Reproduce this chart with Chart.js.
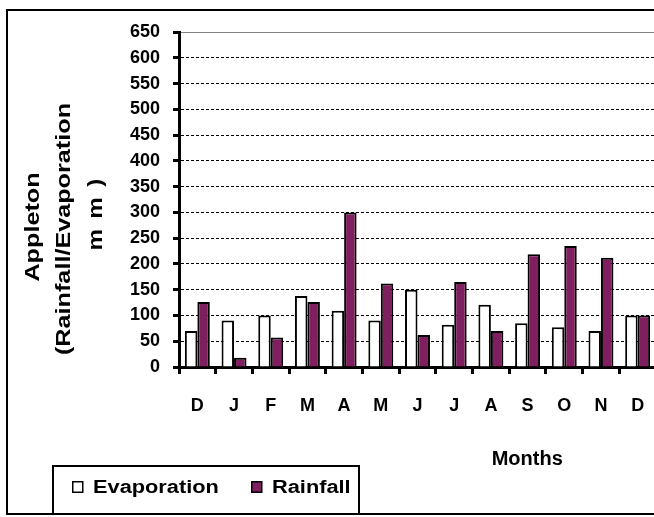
<!DOCTYPE html>
<html>
<head>
<meta charset="utf-8">
<title>Appleton Rainfall / Evaporation</title>
<script src="https://cdn.jsdelivr.net/npm/chart.js@4/dist/chart.umd.min.js"></script>
<style>
  html, body { margin: 0; padding: 0; background: #fff; overflow: hidden; }
  #wrap { position: absolute; left: 0; top: 0; width: 700px; height: 517px; }
</style>
</head>
<body>
<div id="wrap"><canvas id="chart" width="700" height="517"></canvas></div>
<script>
// Monthly values (mm)
const months = ['D', 'J', 'F', 'M', 'A', 'M', 'J', 'J', 'A', 'S', 'O', 'N', 'D'];
const evaporation = [70, 90, 100, 138, 109, 90, 150, 82, 121, 85, 77, 70, 100];
const rainfall = [126, 18, 57, 126, 300, 162, 62, 165, 70, 219, 235, 212, 100];
const seriesNames = ['Evaporation', 'Rainfall'];
const yTitleLines = ['Appleton', '(Rainfall/Evaporation', 'mm)'];
const xTitle = 'Months';

const FONT = '"Liberation Sans", Arial, Helvetica, sans-serif';
const PURPLE = '#7f1f5f';

// Text widened along its own direction (the workbook style uses wide bold type)
function wideText(ctx, text, x, y, sx, spacing) {
  ctx.save();
  ctx.translate(x, y);
  ctx.scale(sx, 1);
  ctx.letterSpacing = (spacing || 0) + 'px';
  ctx.fillText(text, 0, 0);
  ctx.restore();
}

// Outer frame, axis titles and the boxed legend
const decorations = {
  id: 'decorations',
  afterDraw(chart) {
    const ctx = chart.ctx;
    const area = chart.chartArea;
    ctx.save();

    // frame (its right edge runs past the page)
    ctx.strokeStyle = '#000';
    ctx.lineWidth = 2;
    ctx.strokeRect(7, 10, 720, 504);

    // y axis title, three rotated lines
    ctx.fillStyle = '#000';
    ctx.font = 'bold 21px ' + FONT;
    ctx.textBaseline = 'alphabetic';
    ctx.textAlign = 'center';
    const lines = [
      { text: yTitleLines[0], x: 39, y: 227, sx: 1.2, sp: 0 },
      { text: yTitleLines[1], x: 70, y: 229, sx: 1.2, sp: 0 },
      { text: yTitleLines[2], x: 102, y: 214, sx: 1.15, sp: 9 }
    ];
    lines.forEach(l => {
      ctx.save();
      ctx.translate(l.x, l.y);
      ctx.rotate(-Math.PI / 2);
      wideText(ctx, l.text, l.sp / 2, 0, l.sx, l.sp);
      ctx.restore();
    });

    // x axis title
    ctx.font = 'bold 20px ' + FONT;
    ctx.textAlign = 'center';
    ctx.textBaseline = 'middle';
    ctx.fillText(xTitle, area.left + (area.right - area.left) * 0.73, 459);

    // legend box
    ctx.lineWidth = 2;
    ctx.strokeStyle = '#000';
    ctx.fillStyle = '#fff';
    ctx.fillRect(53, 466, 306, 48);
    ctx.strokeRect(53, 466, 306, 48);

    const items = [
      { ds: chart.data.datasets[0], box: 72, text: 93 },
      { ds: chart.data.datasets[1], box: 251, text: 272 }
    ];
    items.forEach(it => {
      ctx.fillStyle = it.ds.backgroundColor;
      ctx.fillRect(it.box + 0.75, 481.75, 10, 10.5);
      ctx.lineWidth = 1.5;
      ctx.strokeStyle = '#000';
      ctx.strokeRect(it.box + 0.75, 481.75, 10, 10.5);
      ctx.fillStyle = '#000';
      ctx.font = 'bold 18px ' + FONT;
      ctx.textAlign = 'left';
      ctx.textBaseline = 'alphabetic';
      wideText(ctx, it.ds.label, it.text, 493, 1.21, 0);
    });

    ctx.restore();
  }
};

new Chart(document.getElementById('chart'), {
  type: 'bar',
  data: {
    labels: months,
    datasets: [
      {
        label: seriesNames[0],
        data: evaporation,
        backgroundColor: '#ffffff',
        borderColor: '#000000',
        borderWidth: 2,
        categoryPercentage: 0.68,
        barPercentage: 1.0
      },
      {
        label: seriesNames[1],
        data: rainfall,
        backgroundColor: PURPLE,
        borderColor: '#000000',
        borderWidth: 2,
        categoryPercentage: 0.68,
        barPercentage: 1.0
      }
    ]
  },
  options: {
    responsive: false,
    animation: false,
    layout: { padding: { top: 32, right: 44, left: 0, bottom: 0 } },
    plugins: {
      legend: { display: false },
      tooltip: { enabled: false },
      title: { display: false }
    },
    scales: {
      x: {
        afterFit(scale) { scale.height = 150; },
        grid: {
          display: true,
          offset: true,
          drawOnChartArea: false,
          drawTicks: true,
          tickLength: 7,
          tickWidth: 3,
          tickColor: '#000'
        },
        border: { display: true, width: 3, color: '#000' },
        ticks: {
          color: '#000',
          padding: 21,
          font: { family: FONT, size: 18, weight: 'bold' }
        }
      },
      y: {
        min: 0,
        max: 650,
        afterFit(scale) { scale.width = 179; },
        grid: {
          drawTicks: true,
          tickLength: 6,
          tickWidth: 3,
          tickColor: '#000',
          lineWidth: 1,
          color: (c) => {
            if (c.tick && c.tick.value === 0) return 'rgba(0,0,0,0)';
            if (c.tick && c.tick.value === 650) return '#808080';
            return '#000';
          }
        },
        border: {
          display: true,
          width: 3,
          color: '#000',
          dash: (c) => (c.tick && c.tick.value === 650) ? [] : [3, 2]
        },
        ticks: {
          stepSize: 50,
          color: '#000',
          padding: 13,
          font: { family: FONT, size: 18, weight: 'bold' }
        }
      }
    }
  },
  plugins: [decorations]
});
</script>
</body>
</html>
